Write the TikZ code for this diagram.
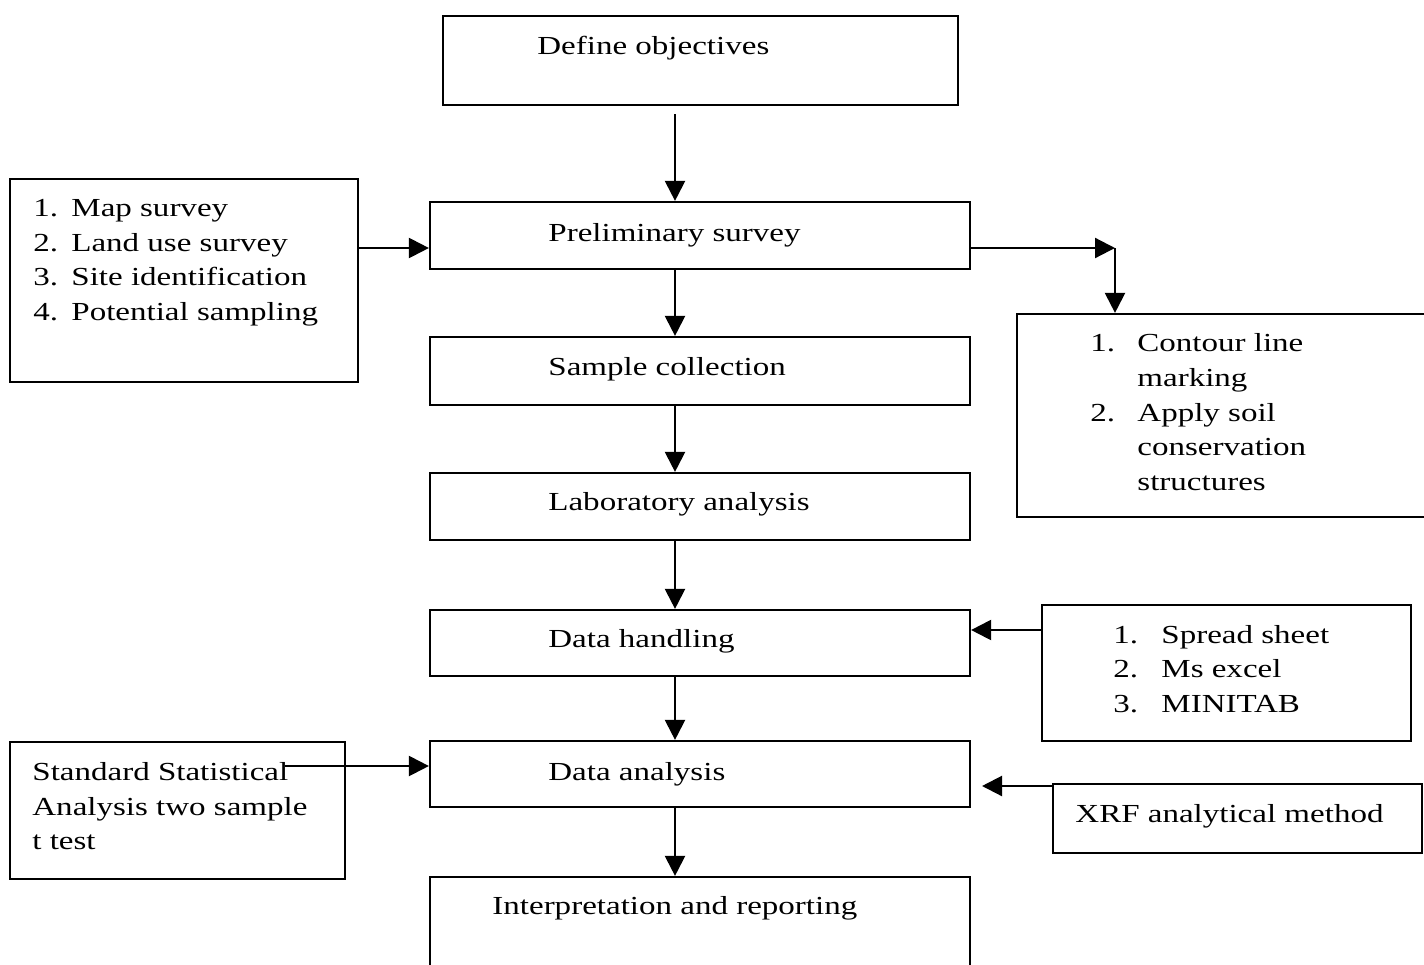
\documentclass[tikz,border=0pt]{standalone}
\usepackage{fontspec}
\setmainfont{Liberation Serif}
\font\diagfont="Liberation Serif:extend=1.27" at 13pt
\usetikzlibrary{arrows.meta}
\begin{document}
\begin{tikzpicture}[x=0.5pt,y=-0.5pt,
  box/.style={draw,line width=1.1pt,rectangle,inner sep=0pt},
  sz/.style 2 args={minimum width=#1*0.5pt,minimum height=#2*0.5pt},
  txt/.style={anchor=base west,inner sep=0pt,font=\diagfont},
  arr/.style={line width=1.1pt,-{Triangle[length=10pt,width=10pt]}}]
\useasboundingbox (0,0) rectangle (1424,964);
\clip (0,0) rectangle (1424,964);
% main column
\node[box,sz={515}{89}] (def) at (700.5,60.5) {};
\node[box,sz={540}{67}] (prelim) at (700,235.5) {};
\node[box,sz={540}{68}] (sample) at (700,371) {};
\node[box,sz={540}{67}] (lab) at (700,506.5) {};
\node[box,sz={540}{66}] (dh) at (700,643) {};
\node[box,sz={540}{66}] (da) at (700,774) {};
\node[box,sz={540}{113}] (interp) at (700,933.5) {};
% side boxes
\node[box,sz={348}{203}] (L1) at (184,280.5) {};
\node[box,sz={335}{137}] (L2) at (177.5,810.5) {};
\node[box,sz={423}{203}] (R1) at (1228.5,415.5) {};
\node[box,sz={369}{136}] (R2) at (1226.5,673) {};
\node[box,sz={369}{69}] (R3) at (1237.5,818.5) {};
% texts
\node[txt] (tdef) at (537,54) {Define objectives};
\node[txt] (tprelim) at (548,241) {Preliminary survey};
\node[txt] (tsample) at (548,375) {Sample collection};
\node[txt] (tlab) at (548,510) {Laboratory analysis};
\node[txt] (tdh) at (548,647) {Data handling};
\node[txt] (tda) at (548,780) {Data analysis};
\node[txt] (tinterp) at (492,914) {Interpretation and reporting};
% L1
\node[txt] (n11) at (33,216) {1.};
\node[txt] (t11) at (71,216) {Map survey};
\node[txt] (n12) at (33,251) {2.};
\node[txt] (t12) at (71,251) {Land use survey};
\node[txt] (n13) at (33,285) {3.};
\node[txt] (t13) at (71,285) {Site identification};
\node[txt] (n14) at (33,320) {4.};
\node[txt] (t14) at (71,320) {Potential sampling};
% L2
\node[txt] (t21) at (32,780) {Standard Statistical};
\node[txt] (t22) at (32,815) {Analysis two sample};
\node[txt] (t23) at (32,849) {t test};
% R1
\node[txt] (n31) at (1090,351) {1.};
\node[txt] (t31) at (1137,351) {Contour line};
\node[txt] (t32) at (1137,386) {marking};
\node[txt] (n33) at (1090,421) {2.};
\node[txt] (t33) at (1137,421) {Apply soil};
\node[txt] (t34) at (1137,455) {conservation};
\node[txt] (t35) at (1137,490) {structures};
% R2
\node[txt] (n41) at (1113,643) {1.};
\node[txt] (t41) at (1161,643) {Spread sheet};
\node[txt] (n42) at (1113,677) {2.};
\node[txt] (t42) at (1161,677) {Ms excel};
\node[txt] (n43) at (1113,712) {3.};
\node[txt] (t43) at (1161,712) {MINITAB};
% R3
\node[txt] (t51) at (1075,822) {XRF analytical method};
% connector helpers
\coordinate (ax) at (675,0);
\coordinate (c1) at (1115,248);
\coordinate (c2) at (1000,630);
\coordinate (c3) at (285,766);
\coordinate (c4) at (982,786);
% vertical arrows
\draw[arr,shorten <=4pt] (def.south -| ax) -- (prelim.north -| ax);
\draw[arr] (prelim.south -| ax) -- (sample.north -| ax);
\draw[arr] (sample.south -| ax) -- (lab.north -| ax);
\draw[arr] (lab.south -| ax) -- (dh.north -| ax);
\draw[arr] (dh.south -| ax) -- (da.north -| ax);
\draw[arr] (da.south -| ax) -- (interp.north -| ax);
% side arrows
\draw[arr] (L1.east |- c1) -- (prelim.west |- c1);
\draw[arr] (prelim.east |- c1) -- (c1);
\draw[arr] (c1) -- (R1.north -| c1);
\draw[arr] (R2.west |- c2) -- (dh.east |- c2);
\draw[arr] (c3) -- (da.west |- c3);
\draw[arr] (R3.west |- c4) -- (c4);
\end{tikzpicture}
\end{document}
